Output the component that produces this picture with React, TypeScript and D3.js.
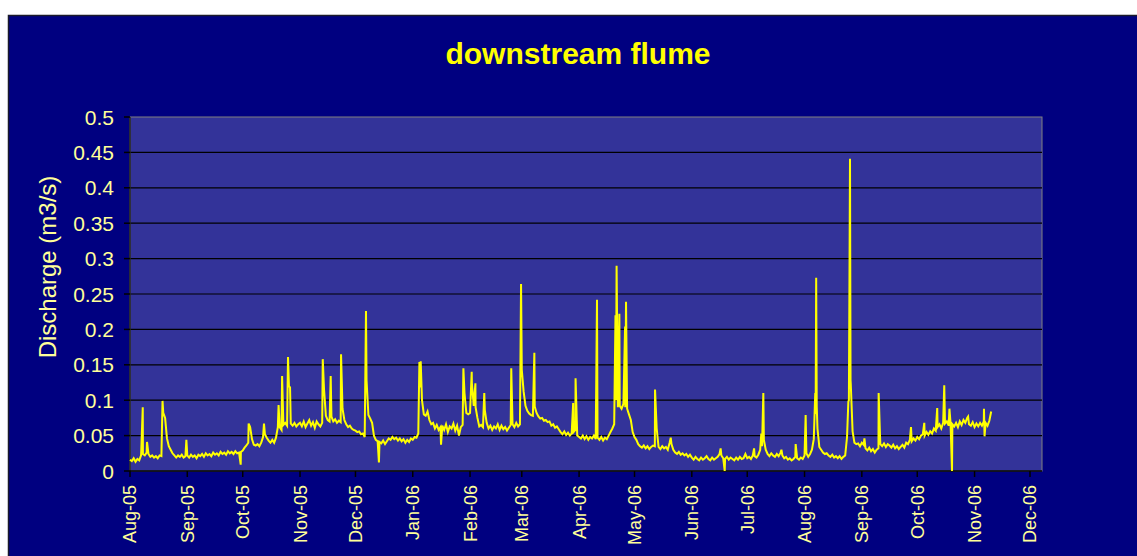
import React from "react";
import * as d3 from "d3";

// Discharge (m3/s), one reading per day starting 1 Aug 2005
const startDate = "2005-08-01";
const dailyDischarge: number[] = [
  // Aug-05
  0.016, 0.014, 0.018, 0.013, 0.017, 0.015, 0.022, 0.024, 0.022, 0.026, 0.024, 0.020, 0.022, 0.019, 0.021, 0.018,
  0.022, 0.021, 0.082, 0.075, 0.046, 0.035, 0.030, 0.025, 0.022, 0.019, 0.022, 0.020, 0.023, 0.019, 0.021,
  // Sep-05
  0.022, 0.019, 0.023, 0.020, 0.022, 0.018, 0.023, 0.021, 0.024, 0.020, 0.025, 0.022, 0.024, 0.021, 0.026,
  0.023, 0.025, 0.022, 0.027, 0.024, 0.026, 0.023, 0.028, 0.025, 0.027, 0.024, 0.028, 0.025, 0.026, 0.027,
  // Oct-05
  0.029, 0.033, 0.036, 0.040, 0.062, 0.045, 0.037, 0.036, 0.038, 0.035, 0.040, 0.048, 0.052, 0.047, 0.043, 0.040,
  0.044, 0.040, 0.047, 0.062, 0.062, 0.058, 0.065, 0.068, 0.064, 0.120, 0.067, 0.064, 0.068, 0.063, 0.066,
  // Nov-05
  0.068, 0.063, 0.070, 0.062, 0.067, 0.072, 0.064, 0.069, 0.061, 0.070, 0.066, 0.063, 0.068, 0.115, 0.078,
  0.072, 0.070, 0.077, 0.070, 0.073, 0.068, 0.071, 0.069, 0.088, 0.072, 0.066, 0.062, 0.064, 0.060, 0.058,
  // Dec-05
  0.057, 0.055, 0.056, 0.052, 0.053, 0.048, 0.128, 0.079, 0.074, 0.068, 0.050, 0.044, 0.042, 0.041, 0.039, 0.043,
  0.038, 0.042, 0.046, 0.044, 0.048, 0.045, 0.047, 0.043, 0.046, 0.042, 0.045, 0.040, 0.044, 0.041, 0.046,
  // Jan-06
  0.044, 0.048, 0.047, 0.053, 0.118, 0.100, 0.080, 0.078, 0.084, 0.072, 0.066, 0.068, 0.060, 0.065, 0.058, 0.062,
  0.064, 0.058, 0.066, 0.055, 0.063, 0.060, 0.067, 0.057, 0.064, 0.050, 0.062, 0.065, 0.110, 0.082, 0.080,
  // Feb-06
  0.082, 0.124, 0.092, 0.090, 0.075, 0.063, 0.065, 0.062, 0.086, 0.068, 0.060, 0.064, 0.058, 0.063,
  0.060, 0.066, 0.058, 0.064, 0.059, 0.062, 0.057, 0.061, 0.065, 0.066, 0.062, 0.068, 0.063, 0.066,
  // Mar-06
  0.143, 0.112, 0.092, 0.085, 0.081, 0.079, 0.078, 0.091, 0.082, 0.077, 0.074, 0.075, 0.071, 0.072, 0.069, 0.070,
  0.064, 0.066, 0.061, 0.063, 0.059, 0.055, 0.052, 0.056, 0.051, 0.054, 0.050, 0.053, 0.055, 0.058, 0.050,
  // Apr-06
  0.048, 0.046, 0.050, 0.045, 0.049, 0.044, 0.048, 0.046, 0.050, 0.045, 0.047, 0.044, 0.048, 0.043, 0.047,
  0.045, 0.050, 0.055, 0.060, 0.066, 0.100, 0.090, 0.092, 0.088, 0.095, 0.090, 0.088, 0.080, 0.072, 0.055,
  // May-06
  0.048, 0.044, 0.038, 0.035, 0.033, 0.036, 0.032, 0.035, 0.031, 0.034, 0.036, 0.035, 0.060, 0.034, 0.031, 0.035,
  0.032, 0.034, 0.030, 0.040, 0.038, 0.030, 0.026, 0.024, 0.027, 0.023, 0.025, 0.022, 0.024, 0.020, 0.023,
  // Jun-06
  0.019, 0.016, 0.020, 0.017, 0.015, 0.019, 0.016, 0.018, 0.021, 0.017, 0.015, 0.019, 0.016, 0.018, 0.020,
  0.024, 0.022, 0.018, 0.017, 0.020, 0.016, 0.019, 0.017, 0.015, 0.019, 0.016, 0.020, 0.017, 0.018, 0.024,
  // Jul-06
  0.018, 0.020, 0.017, 0.022, 0.021, 0.019, 0.023, 0.030, 0.035, 0.044, 0.030, 0.024, 0.021, 0.025, 0.022, 0.020,
  0.024, 0.021, 0.026, 0.022, 0.018, 0.020, 0.016, 0.018, 0.015, 0.017, 0.020, 0.018, 0.016, 0.019, 0.017,
  // Aug-06
  0.022, 0.025, 0.020, 0.024, 0.030, 0.045, 0.080, 0.060, 0.034, 0.030, 0.026, 0.024, 0.025, 0.022, 0.020, 0.023,
  0.019, 0.021, 0.018, 0.021, 0.017, 0.020, 0.022, 0.048, 0.100, 0.124, 0.056, 0.040, 0.038, 0.039, 0.035,
  // Sep-06
  0.040, 0.037, 0.032, 0.029, 0.033, 0.028, 0.031, 0.026, 0.030, 0.032, 0.038, 0.035, 0.039, 0.034, 0.038,
  0.036, 0.033, 0.037, 0.032, 0.035, 0.031, 0.034, 0.037, 0.033, 0.040, 0.038, 0.044, 0.042, 0.046, 0.043,
  // Oct-06
  0.048, 0.045, 0.050, 0.052, 0.050, 0.055, 0.051, 0.056, 0.053, 0.060, 0.057, 0.062, 0.066, 0.060, 0.068, 0.067,
  0.070, 0.064, 0.068, 0.066, 0.063, 0.068, 0.062, 0.070, 0.065, 0.072, 0.068, 0.075, 0.066, 0.064, 0.069,
  // Nov-06
  0.062, 0.067, 0.063, 0.068, 0.064, 0.070, 0.068, 0.064, 0.071, 0.084,
];

// Short storm peaks / dips: [days since start, discharge m3/s]
const peakEvents: [number, number][] = [
  [6.9, 0.090], [9.2, 0.041], [17.6, 0.099], [30.5, 0.044], [59.9, 0.009], [64.2, 0.067], [72.5, 0.067],
  [80.4, 0.093], [82.3, 0.134], [85.5, 0.161], [86.6, 0.118], [104.3, 0.158], [108.6, 0.134], [114.2, 0.165],
  [127.7, 0.226], [134.7, 0.012], [156.6, 0.154], [157.3, 0.155], [168.3, 0.037], [180.4, 0.145], [184.9, 0.140],
  [186.9, 0.124], [191.7, 0.110], [206.3, 0.145], [211.6, 0.264], [218.8, 0.167], [239.8, 0.096], [241.1, 0.131],
  [252.7, 0.242], [262.7, 0.220], [263.3, 0.290], [264.8, 0.222], [267.9, 0.204], [268.4, 0.239], [284.1, 0.115],
  [292.6, 0.047], [319.6, 0.032], [321.8, 0.0], [337.7, 0.032], [341.6, 0.053], [342.7, 0.110], [352.5, 0.030],
  [360.2, 0.038], [365.6, 0.079], [370.8, 0.110], [371.3, 0.273], [371.6, 0.091], [388.7, 0.098], [389.4, 0.320],
  [389.6, 0.441], [389.9, 0.128], [397.4, 0.046], [405.1, 0.110], [422.6, 0.062], [429.8, 0.068], [436.8, 0.089],
  [440.6, 0.121], [443.4, 0.088], [444.8, 0.0], [453.5, 0.077], [462.1, 0.088], [462.4, 0.049],
];

const monthLabels = [
  "Aug-05", "Sep-05", "Oct-05", "Nov-05", "Dec-05", "Jan-06", "Feb-06", "Mar-06", "Apr-06",
  "May-06", "Jun-06", "Jul-06", "Aug-06", "Sep-06", "Oct-06", "Nov-06", "Dec-06",
];
const yTickValues = [0, 0.05, 0.1, 0.15, 0.2, 0.25, 0.3, 0.35, 0.4, 0.45, 0.5];
const yTickLabels = ["0", "0.05", "0.1", "0.15", "0.2", "0.25", "0.3", "0.35", "0.4", "0.45", "0.5"];

const W = 1137;
const H = 556;
const P = { left: 130, top: 117, right: 1042, bottom: 471 };
const FONT = "Arial, 'Liberation Sans', sans-serif";
const LABEL = "#FFFF99";

export default function App() {
  const t0 = Date.parse(startDate + "T00:00:00Z");
  const toDate = (d: number) => new Date(t0 + d * 86400000);
  const lastTick = d3.utcMonth.offset(toDate(0), monthLabels.length - 1);
  const x = d3.scaleUtc().domain([toDate(0), lastTick]).range([130, 1030]);
  const y = d3.scaleLinear().domain([0, 0.5]).range([P.bottom, P.top]);

  const points: [number, number][] = dailyDischarge
    .map((v, i) => [i, v] as [number, number])
    .concat(peakEvents)
    .sort((a, b) => a[0] - b[0]);

  const line = d3
    .line<[number, number]>()
    .x((d) => x(toDate(d[0])))
    .y((d) => y(d[1]));

  const monthDates = monthLabels.map((_, i) => d3.utcMonth.offset(toDate(0), i));

  return (
    <div style={{ position: "absolute", left: 0, top: 0, width: W, height: H }}>
      <svg width={W} height={H} style={{ display: "block" }}>
        <rect x={0} y={0} width={W} height={H} fill="#ffffff" />
        <rect x={8.5} y={15.5} width={W} height={H} fill="#000080" stroke="#1a1a2a" strokeWidth={1.5} />
        <text
          x={578}
          y={64}
          textAnchor="middle"
          fill="#FFFF00"
          fontFamily={FONT}
          fontWeight="bold"
          fontSize={30}
        >
          downstream flume
        </text>

        <rect
          x={P.left}
          y={P.top}
          width={P.right - P.left}
          height={P.bottom - P.top}
          fill="#333399"
          stroke="#808080"
          strokeWidth={1}
        />
        {yTickValues.slice(1, -1).map((v) => (
          <line key={v} x1={P.left} x2={P.right} y1={y(v)} y2={y(v)} stroke="#000000" strokeWidth={1.2} />
        ))}
        <line x1={P.left} x2={P.left} y1={P.top} y2={P.bottom} stroke="#222222" strokeWidth={1.5} />
        <line x1={P.left} x2={P.right} y1={P.bottom} y2={P.bottom} stroke="#000000" strokeWidth={1.5} />

        {yTickValues.map((v, i) => (
          <g key={"y" + v}>
            <line x1={P.left - 6} x2={P.left} y1={y(v)} y2={y(v)} stroke="#000000" strokeWidth={1.5} />
            <text
              x={114}
              y={y(v)}
              dy="0.36em"
              textAnchor="end"
              fill={LABEL}
              fontFamily={FONT}
              fontSize={21}
            >
              {yTickLabels[i]}
            </text>
          </g>
        ))}

        {monthDates.map((d, i) => (
          <g key={"x" + i}>
            <line x1={x(d)} x2={x(d)} y1={P.bottom} y2={P.bottom + 6} stroke="#000000" strokeWidth={1.5} />
            <text
              transform={`translate(${x(d)},${P.bottom + 14}) rotate(-90)`}
              dy="0.36em"
              textAnchor="end"
              fill={LABEL}
              fontFamily={FONT}
              fontSize={18}
            >
              {monthLabels[i]}
            </text>
          </g>
        ))}

        <text
          transform={`translate(47,267) rotate(-90)`}
          dy="0.36em"
          textAnchor="middle"
          fill={LABEL}
          fontFamily={FONT}
          fontSize={24}
        >
          Discharge (m3/s)
        </text>

        <path d={line(points) || ""} fill="none" stroke="#FFFF00" strokeWidth={2} strokeLinejoin="miter" />
      </svg>
    </div>
  );
}
